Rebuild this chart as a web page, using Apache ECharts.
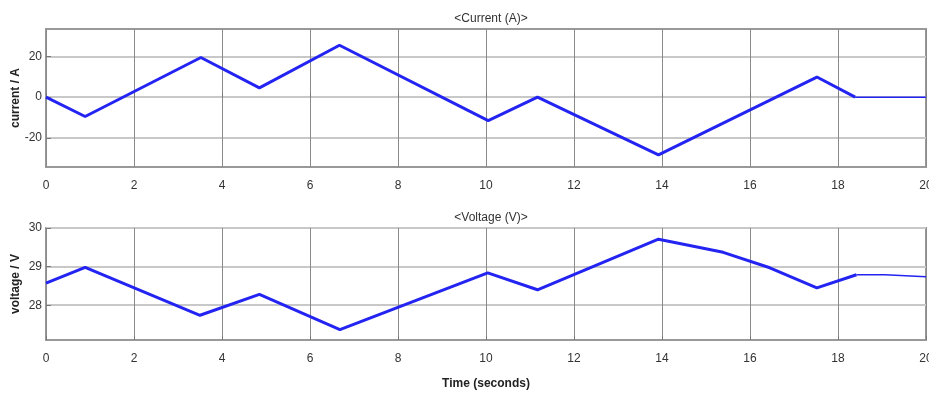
<!DOCTYPE html>
<html>
<head>
<meta charset="utf-8">
<script src="https://cdn.jsdelivr.net/npm/echarts@6/dist/echarts.min.js"></script>
<style>
  html, body { margin: 0; padding: 0; background: #fff; }
  #chart { width: 929px; height: 394px; }
</style>
</head>
<body>
<div id="chart"></div>
<script>
// current trace (A)
const currentTime  = [0, 0.89, 3.52, 4.85, 6.67, 10.05, 11.17, 13.92, 17.52, 18.39, 20];
const currentValue = [0, -9.5, 19.5, 4.6, 25.5, -11.5, 0, -28.3, 9.9, 0, 0];
const currentTailFrom = 9; // thinner flat part starts here

// voltage trace (V)
const voltageTime  = [0, 0.89, 3.5, 4.85, 6.68, 10.04, 11.17, 13.92, 15.39, 16.45, 17.52, 18.42, 19.07, 19.1, 20];
const voltageValue = [28.57, 28.98, 27.74, 28.28, 27.37, 28.84, 28.4, 29.71, 29.37, 28.97, 28.45, 28.79, 28.79, 28.74, 28.74];
const voltageTailFrom = 11;

const timeTicks = [0, 2, 4, 6, 8, 10, 12, 14, 16, 18, 20];
const currentTicks = [-20, 0, 20];
const voltageTicks = [28, 29, 30];

const chart = echarts.init(document.getElementById('chart'));

function pairs(t, v) {
  return t.map((x, i) => [x, v[i]]);
}
const cur = pairs(currentTime, currentValue);
const vol = pairs(voltageTime, voltageValue);

const font = "'Liberation Sans Narrow', 'Liberation Sans', Arial, sans-serif";
const blue = '#2424f2';

function xAxisOf(idx, name) {
  return {
    type: 'value', gridIndex: idx, min: 0, max: 20, interval: 2,
    name: name, nameLocation: 'middle', nameGap: 38, nameMoveOverlap: false,
    nameTextStyle: { fontFamily: 'Liberation Sans', fontWeight: 'bold', fontSize: 12, color: '#222' },
    axisLine: { show: false },
    axisTick: { show: true, inside: true, length: 4, lineStyle: { color: '#777' } },
    axisLabel: { margin: 13, fontFamily: font, fontSize: 12, color: '#333', hideOverlap: false },
    splitLine: { show: true, lineStyle: { color: '#8a8a8a', width: 1 } }
  };
}

function yAxisOf(idx, name, min, max, ticks) {
  return {
    type: 'value', gridIndex: idx, min: min, max: max,
    name: name, nameLocation: 'middle', nameGap: 24, nameRotate: 90, nameMoveOverlap: false,
    nameTextStyle: { fontFamily: 'Liberation Sans', fontWeight: 'bold', fontSize: 12, color: '#222' },
    axisLine: { show: false },
    axisTick: { show: true, inside: true, length: 5, customValues: ticks, lineStyle: { color: '#777' } },
    axisLabel: { margin: 4, fontFamily: font, fontSize: 12, color: '#333', customValues: ticks },
    splitLine: { show: true, lineStyle: { color: '#c8c8c8', width: 2 } }
  };
}

chart.setOption({
  backgroundColor: '#fff',
  animation: false,
  title: [{
    text: '<Current (A)>', left: 486, top: 8, textAlign: 'center',
    textStyle: { fontFamily: font, fontSize: 12, fontWeight: 'normal', color: '#333' }
  }, {
    text: '<Voltage (V)>', left: 486, top: 207, textAlign: 'center',
    textStyle: { fontFamily: font, fontSize: 12, fontWeight: 'normal', color: '#333' }
  }],
  grid: [
    { left: 46, right: 3, top: 29, height: 138, show: true, borderColor: '#999', borderWidth: 2,
      containLabel: false, outerBoundsMode: 'none' },
    { left: 46, right: 3, top: 228, height: 112, show: true, borderColor: '#999', borderWidth: 2,
      containLabel: false, outerBoundsMode: 'none' }
  ],
  xAxis: [xAxisOf(0, ''), xAxisOf(1, 'Time (seconds)')],
  yAxis: [
    yAxisOf(0, 'current / A', -34.3, 33.5, currentTicks),
    yAxisOf(1, 'voltage / V', 27.1, 30, voltageTicks)
  ],
  series: [
    { type: 'line', xAxisIndex: 0, yAxisIndex: 0, data: cur.slice(0, currentTailFrom + 1),
      showSymbol: false, lineStyle: { color: blue, width: 3 } },
    { type: 'line', xAxisIndex: 0, yAxisIndex: 0, data: cur.slice(currentTailFrom),
      showSymbol: false, lineStyle: { color: blue, width: 1.5 } },
    { type: 'line', xAxisIndex: 1, yAxisIndex: 1, data: vol.slice(0, voltageTailFrom + 1),
      showSymbol: false, lineStyle: { color: blue, width: 3 } },
    { type: 'line', xAxisIndex: 1, yAxisIndex: 1, data: vol.slice(voltageTailFrom),
      showSymbol: false, lineStyle: { color: blue, width: 1.5 } }
  ]
});
</script>
</body>
</html>
